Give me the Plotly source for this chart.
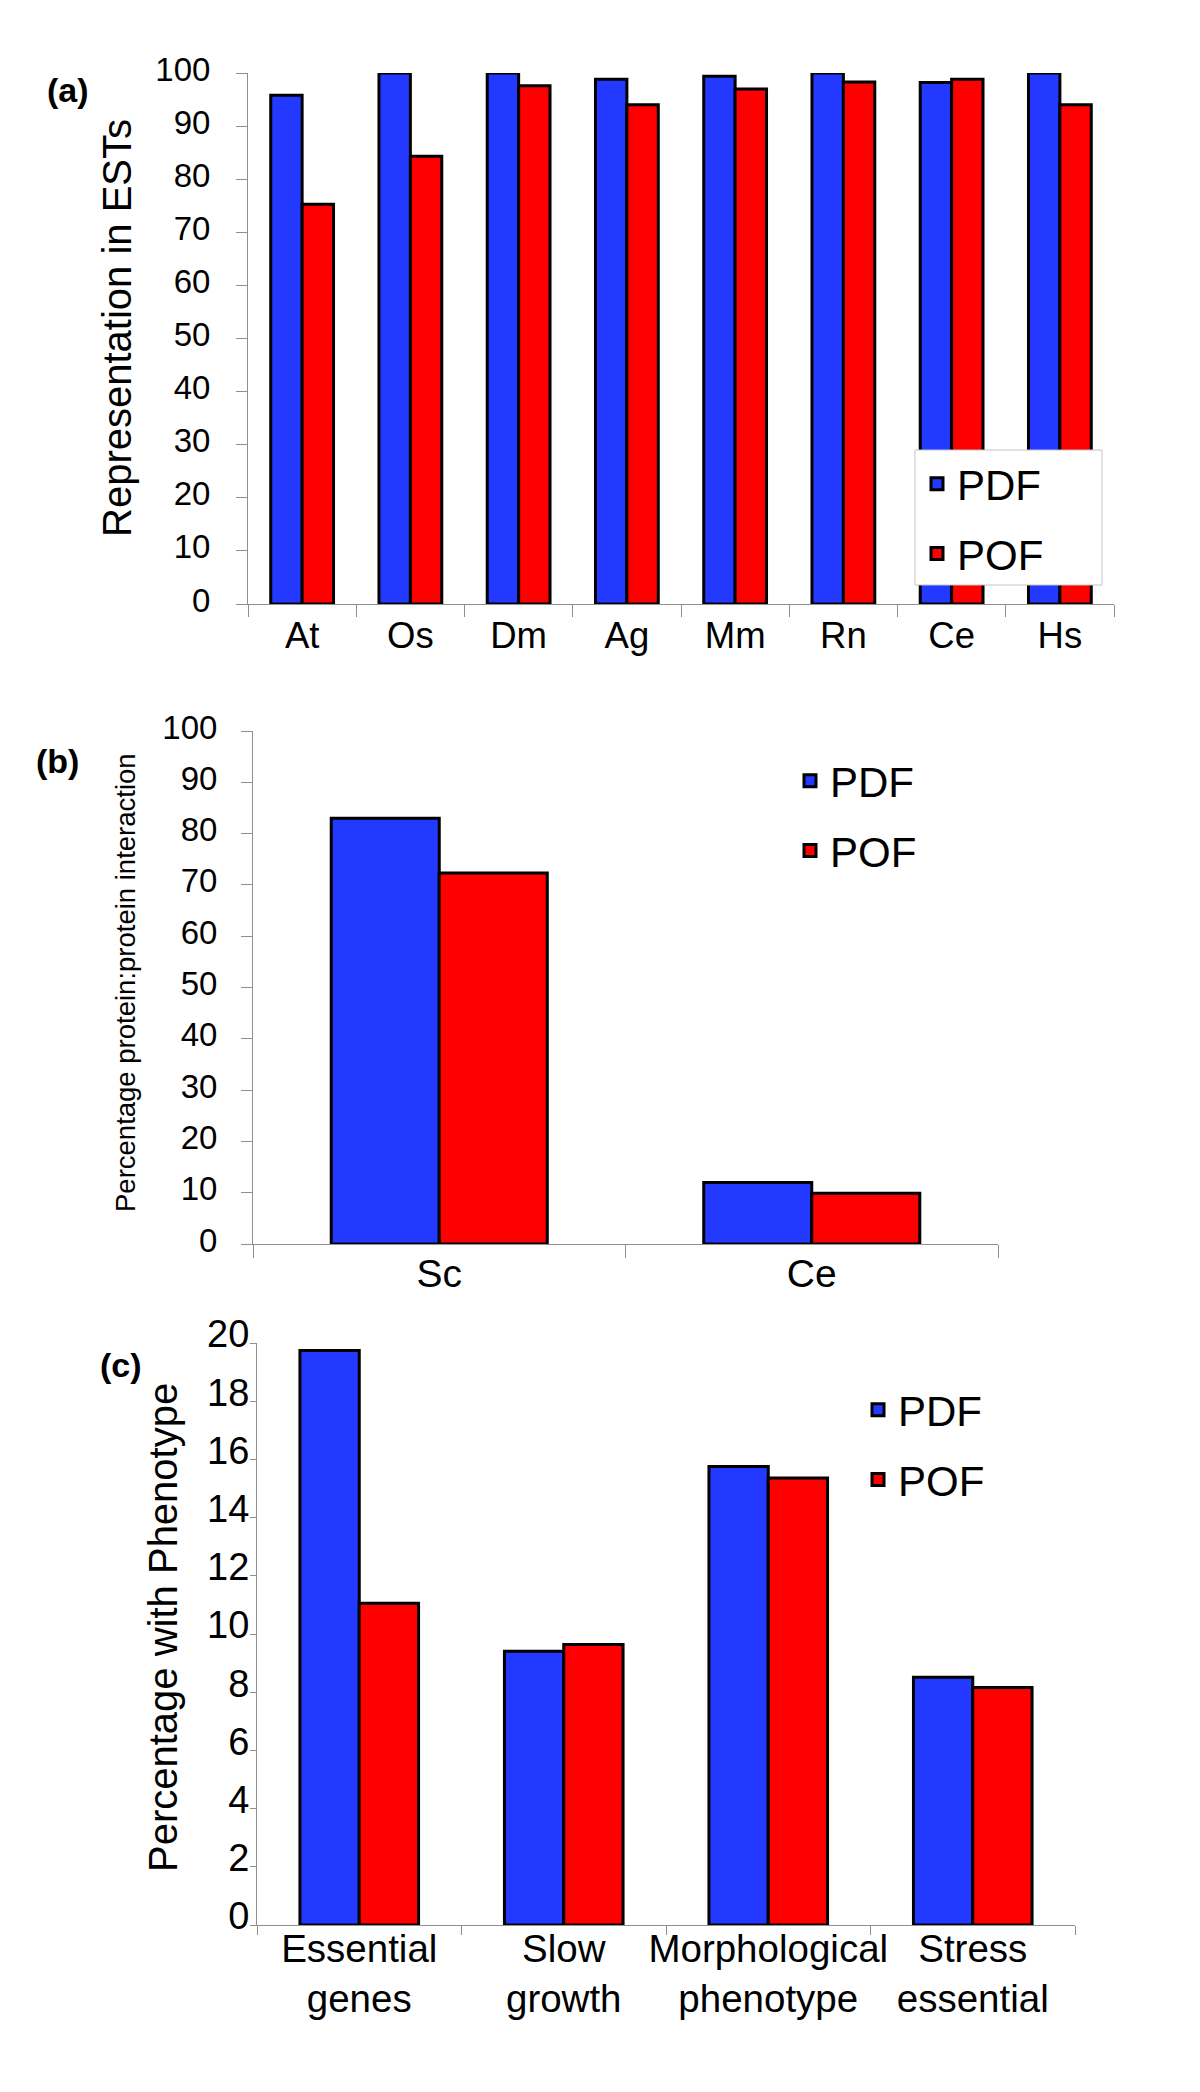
import plotly.graph_objects as go

# ---------------- data ----------------
cats_a = ["At", "Os", "Dm", "Ag", "Mm", "Rn", "Ce", "Hs"]
pdf_a = [95.8, 100.0, 100.0, 98.8, 99.4, 100.0, 98.2, 100.0]
pof_a = [75.3, 84.3, 97.6, 94.0, 97.0, 98.3, 98.8, 94.0]

cats_b = ["Sc", "Ce"]
pdf_b = [83.0, 12.0]
pof_b = [72.3, 9.9]

cats_c = ["Essential<br>genes", "Slow<br>growth", "Morphological<br>phenotype", "Stress<br>essential"]
pdf_c = [19.74, 9.41, 15.76, 8.51]
pof_c = [11.06, 9.64, 15.36, 8.16]

series_names = ["PDF", "POF"]
ticks_a = list(range(0, 101, 10))
ticks_b = list(range(0, 101, 10))
ticks_c = list(range(0, 21, 2))

# ---------------- style ----------------
BLUE = "#2439FF"
RED = "#FF0000"
FONT = "Liberation Sans, Arial, Helvetica, sans-serif"
AXC = "#8f8f8f"
W, H = 1200, 2092


def px(x):
    return x / W


def py(y):
    return 1 - y / H


fig = go.Figure()

panels = [
    ("x", "y", "legend", cats_a, pdf_a, pof_a),
    ("x2", "y2", "legend2", cats_b, pdf_b, pof_b),
    ("x3", "y3", "legend3", cats_c, pdf_c, pof_c),
]
for xa, ya, lg, cats, v1, v2 in panels:
    for name, vals, col in zip(series_names, [v1, v2], [BLUE, RED]):
        fig.add_trace(go.Bar(
            x=cats, y=vals, name=name, xaxis=xa, yaxis=ya,
            marker=dict(color=col, line=dict(color="black", width=3)),
            legend=lg, legendgroup=lg + name, hoverinfo="x+y+name",
        ))

common_x = dict(showline=True, linecolor=AXC, linewidth=1, ticks="outside",
                tickcolor=AXC, tickwidth=1, tickson="boundaries", tickangle=0,
                showgrid=False, zeroline=False, fixedrange=True, automargin=False)
common_y = dict(showline=True, linecolor=AXC, linewidth=1, ticks="outside",
                tickcolor=AXC, tickwidth=1, showgrid=False, zeroline=False,
                fixedrange=True, automargin=False)

fig.update_layout(
    width=W, height=H,
    margin=dict(l=0, r=0, t=0, b=0, autoexpand=False),
    paper_bgcolor="white", plot_bgcolor="white",
    barmode="group", bargap=0.42, bargroupgap=0,
    font=dict(family=FONT, color="black"),
    xaxis=dict(domain=[px(248), px(1114)], anchor="y", ticklen=12,
               tickfont=dict(size=36.5), ticklabelstandoff=-1, **common_x),
    yaxis=dict(domain=[py(604), py(73)], anchor="x", range=[0, 100],
               tickvals=ticks_a, ticklen=11, tickfont=dict(size=33),
               ticklabelstandoff=19, ticklabelshift=-4, **common_y),
    xaxis2=dict(domain=[px(253), px(998)], anchor="y2", ticklen=13,
                tickfont=dict(size=39), ticklabelstandoff=-5, **common_x),
    yaxis2=dict(domain=[py(1244), py(731)], anchor="x2", range=[0, 100],
                tickvals=ticks_b, ticklen=11, tickfont=dict(size=33),
                ticklabelstandoff=17, ticklabelshift=-4, **common_y),
    xaxis3=dict(domain=[px(257), px(1075)], anchor="y3", ticklen=9,
                tickfont=dict(size=38.5), ticklabelstandoff=-10, **common_x),
    yaxis3=dict(domain=[py(1925), py(1343)], anchor="x3", range=[0, 20],
                tickvals=ticks_c, ticklen=6, tickfont=dict(size=38),
                ticklabelstandoff=-7, ticklabelshift=-9, **common_y),
    legend=dict(x=px(917), y=py(450), xanchor="left", yanchor="top",
                bgcolor="rgba(0,0,0,0)", borderwidth=0,
                font=dict(size=42), tracegroupgap=12),
    legend2=dict(x=px(790), y=py(747), xanchor="left", yanchor="top",
                 bgcolor="rgba(0,0,0,0)", borderwidth=0,
                 font=dict(size=42), tracegroupgap=12),
    legend3=dict(x=px(858), y=py(1376), xanchor="left", yanchor="top",
                 bgcolor="rgba(0,0,0,0)", borderwidth=0,
                 font=dict(size=42), tracegroupgap=12),
)

# frame of the legend box in panel (a)
fig.add_shape(type="rect", xref="paper", yref="paper",
              x0=px(915), x1=px(1102), y0=py(585), y1=py(450),
              fillcolor="white", line=dict(color="#c4c4c4", width=1), layer="above")

annots = [
    dict(text="<b>(a)</b>", x=px(68), y=py(90), size=34, angle=0),
    dict(text="<b>(b)</b>", x=px(57), y=py(761), size=34, angle=0),
    dict(text="<b>(c)</b>", x=px(121), y=py(1365), size=34, angle=0),
    dict(text="Representation in ESTs", x=px(117), y=py(328), size=40, angle=-90),
    dict(text="Percentage protein:protein interaction", x=px(125), y=py(983), size=27.5, angle=-90),
    dict(text="Percentage with Phenotype", x=px(163), y=py(1628), size=40, angle=-90),
]
for a in annots:
    fig.add_annotation(text=a["text"], x=a["x"], y=a["y"], xref="paper", yref="paper",
                       xanchor="center", yanchor="middle", showarrow=False,
                       textangle=a["angle"], font=dict(size=a["size"], family=FONT, color="black"))

fig.write_html("out.html", config={"displayModeBar": False},
               post_script="document.body.style.margin='0px';")
